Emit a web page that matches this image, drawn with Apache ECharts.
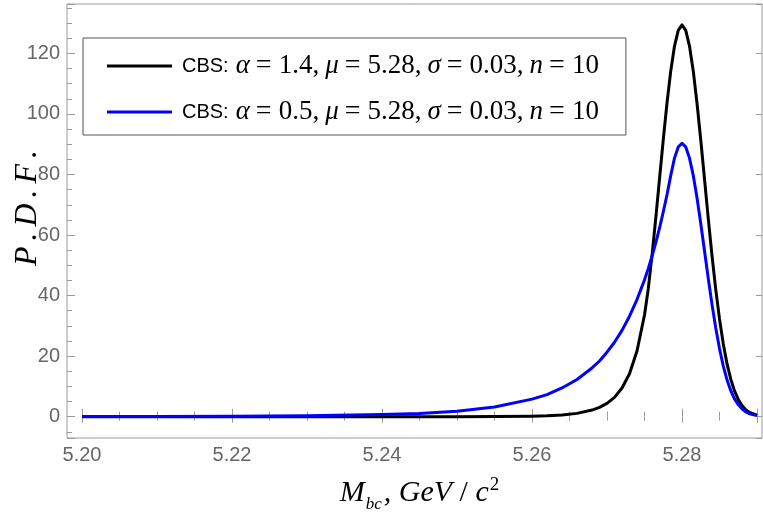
<!DOCTYPE html>
<html><head><meta charset="utf-8">
<script src="https://cdn.jsdelivr.net/npm/echarts@6/dist/echarts.min.js"></script>
<style>html,body{margin:0;padding:0;background:#fff}#c{width:763px;height:517px}</style>
</head><body><div id="c"></div>
<script>
// x positions (GeV/c^2) at which the curves were read
const xValues = [5.20, 5.21, 5.22, 5.23, 5.24, 5.245, 5.25, 5.255, 5.26, 5.262, 5.264, 5.266, 5.268, 5.269,
  5.270, 5.271, 5.272, 5.273, 5.274, 5.275, 5.2755, 5.276, 5.2765, 5.277, 5.2775, 5.278, 5.2785, 5.279, 5.2795,
  5.280, 5.2805, 5.281, 5.2815, 5.282, 5.2825, 5.283, 5.2835, 5.284, 5.2845, 5.285, 5.2855, 5.286, 5.2865,
  5.287, 5.2875, 5.288, 5.2885, 5.289, 5.290];
// CBS alpha = 1.4 (black)
const blackValues = [0, 0, 0, 0, 0, 0.01, 0.02, 0.06, 0.19, 0.34, 0.6, 1.1, 2.2, 3.1,
  4.4, 6.4, 9.5, 14.2, 21.7, 33.6, 42.2, 53.2, 65.5, 78.5, 91.4, 103.6, 114.2, 122.4, 127.6,
  129.4, 127.6, 122.4, 114.2, 103.6, 91.4, 78.5, 65.5, 53.2, 42.0, 32.3, 24.1, 17.5, 12.4,
  8.5, 5.7, 3.7, 2.3, 1.4, 0.5];
// CBS alpha = 0.5 (blue)
const blueValues = [0.04, 0.08, 0.15, 0.3, 0.7, 1.1, 1.8, 3.2, 5.8, 7.3, 9.5, 12.3, 16.1, 18.4,
  21.3, 24.6, 28.5, 33.2, 38.7, 45.2, 48.9, 53.0, 57.4, 62.3, 67.6, 73.3, 79.7, 85.4, 89.1,
  90.3, 89.1, 85.4, 79.7, 72.3, 63.8, 54.8, 45.7, 37.1, 29.3, 22.5, 16.8, 12.2, 8.6,
  5.9, 4.0, 2.6, 1.6, 1.0, 0.35];
const alphaValues = [1.4, 0.5];
const muValue = 5.28, sigmaValue = 0.03, nValue = 10;
const seriesColors = ['#000000', '#0000ff'];
const seriesNames = alphaValues.map(a => 'CBS: α=' + a + ', μ=' + muValue + ', σ=' + sigmaValue + ', n=' + nValue);
const seriesValues = [blackValues, blueValues];

const SERIF = "'Liberation Serif','DejaVu Serif',serif";
const SANS = "'Liberation Sans',Arial,sans-serif";
const chart = echarts.init(document.getElementById('c'), null, {renderer: 'canvas'});

function legendText(name) {
  const i = seriesNames.indexOf(name);
  const a = alphaValues[i];
  return '{s|CBS:}{v|α}{o|=}{d|' + a + '}{c|,}{v|μ}{o|=}{d|' + muValue + '}{c|,}{v|σ}{o|=}{d|' +
    sigmaValue.toFixed(2) + '}{c|,}{v|n}{o|=}{d|' + nValue + '}';
}

const gray = '#9a9a9a';
const tickLabel = {color: '#666', fontFamily: SANS, fontSize: 20};

const option = {
  animation: false,
  backgroundColor: '#fff',
  grid: [
    {left: 82, right: 6, top: 4, bottom: 79, show: false, containLabel: false, outerBoundsMode: 'none'},
    {left: 67, right: 1, top: 4, bottom: 79, show: true, borderColor: gray, borderWidth: 1, backgroundColor: 'transparent', containLabel: false, outerBoundsMode: 'none'}
  ],
  xAxis: [
    {type: 'value', gridIndex: 0, position: 'bottom', min: 5.20, max: 5.29, splitNumber: 5,
      axisLine: {show: false}, splitLine: {show: false},
      axisTick: {show: true, inside: true, length: 8, lineStyle: {color: gray}},
      minorTick: {show: true, splitNumber: 4, length: 5, lineStyle: {color: gray}},
      axisLabel: Object.assign({margin: 7, showMaxLabel: false, showMinLabel: true, formatter: v => v.toFixed(2)}, tickLabel),
      name: '{i|M}{b|bc}{i|, GeV}{n| / }{i|c}{p|2}', nameLocation: 'middle', nameGap: 36, nameMoveOverlap: false,
      nameTextStyle: {rich: {
        i: {fontFamily: SERIF, fontStyle: 'italic', fontSize: 30, color: '#000'},
        n: {fontFamily: SERIF, fontSize: 30, color: '#000'},
        b: {fontFamily: SERIF, fontStyle: 'italic', fontSize: 17, color: '#000', padding: [22, 2, 0, 1]},
        p: {fontFamily: SERIF, fontSize: 19, color: '#000', padding: [0, 0, 16, 1]}
      }}
    },
    {type: 'value', gridIndex: 0, position: 'top', min: 5.20, max: 5.29, splitNumber: 5,
      axisLine: {show: false}, splitLine: {show: false}, axisLabel: {show: false},
      axisTick: {show: true, inside: true, length: 6, lineStyle: {color: gray}},
      minorTick: {show: true, splitNumber: 4, length: 4, lineStyle: {color: gray}}
    },
    {type: 'value', gridIndex: 1, show: false, min: 0, max: 1}
  ],
  yAxis: [
    {type: 'value', gridIndex: 0, position: 'left', offset: 15, min: -7.03, max: 136.3, splitNumber: 6,
      axisLine: {show: false}, splitLine: {show: false},
      axisTick: {show: true, inside: true, length: 8, lineStyle: {color: gray}},
      minorTick: {show: true, splitNumber: 4, length: 5, lineStyle: {color: gray}},
      axisLabel: Object.assign({margin: 7, showMinLabel: false, showMaxLabel: false}, tickLabel),
      name: '{i|P}{d|.}{i|D}{d|.}{i|F}{d|.}', nameLocation: 'middle', nameRotate: 90, nameGap: 23,
      nameMoveOverlap: false,
      nameTextStyle: {padding: [0, 0, 0, 32], rich: {
        i: {fontFamily: SERIF, fontStyle: 'italic', fontSize: 32, color: '#000'},
        d: {fontFamily: SERIF, fontStyle: 'italic', fontSize: 32, color: '#000', padding: [0, 6, 0, 6]}
      }}
    },
    {type: 'value', gridIndex: 0, position: 'right', offset: 5, min: -7.03, max: 136.3, splitNumber: 6,
      axisLine: {show: false}, splitLine: {show: false}, axisLabel: {show: false},
      axisTick: {show: true, inside: true, length: 6, lineStyle: {color: gray}},
      minorTick: {show: false}
    },
    {type: 'value', gridIndex: 1, show: false, min: 0, max: 1}
  ],
  legend: {
    orient: 'vertical', left: 83, top: 38, padding: [14, 27, 9, 24], itemGap: 18,
    itemWidth: 65, itemHeight: 3, selectedMode: false, icon: 'rect',
    borderColor: '#555', borderWidth: 1, backgroundColor: '#fff',
    data: seriesNames,
    formatter: legendText,
    textStyle: {rich: {
      s: {fontFamily: SANS, fontSize: 20, color: '#000', padding: [0, 7, 0, 5], lineHeight: 30},
      v: {fontFamily: SERIF, fontStyle: 'italic', fontSize: 27, color: '#000', lineHeight: 30},
      o: {fontFamily: SERIF, fontSize: 28, color: '#000', padding: [0, 7, 0, 6], lineHeight: 30},
      d: {fontFamily: SERIF, fontSize: 27, color: '#000', lineHeight: 30},
      c: {fontFamily: SERIF, fontSize: 27, color: '#000', padding: [0, 6, 0, 0], lineHeight: 30}
    }}
  },
  series: seriesNames.map((name, k) => ({
    name: name, type: 'line', xAxisIndex: 0, yAxisIndex: 0,
    data: xValues.map((x, i) => [x, seriesValues[k][i]]),
    symbol: 'none', showSymbol: false, smooth: false,
    color: seriesColors[k],
    itemStyle: {color: seriesColors[k]},
    lineStyle: {width: 3, color: seriesColors[k], join: 'round'},
    z: 3 + k
  }))
};
chart.setOption(option);
</script>
</body></html>
